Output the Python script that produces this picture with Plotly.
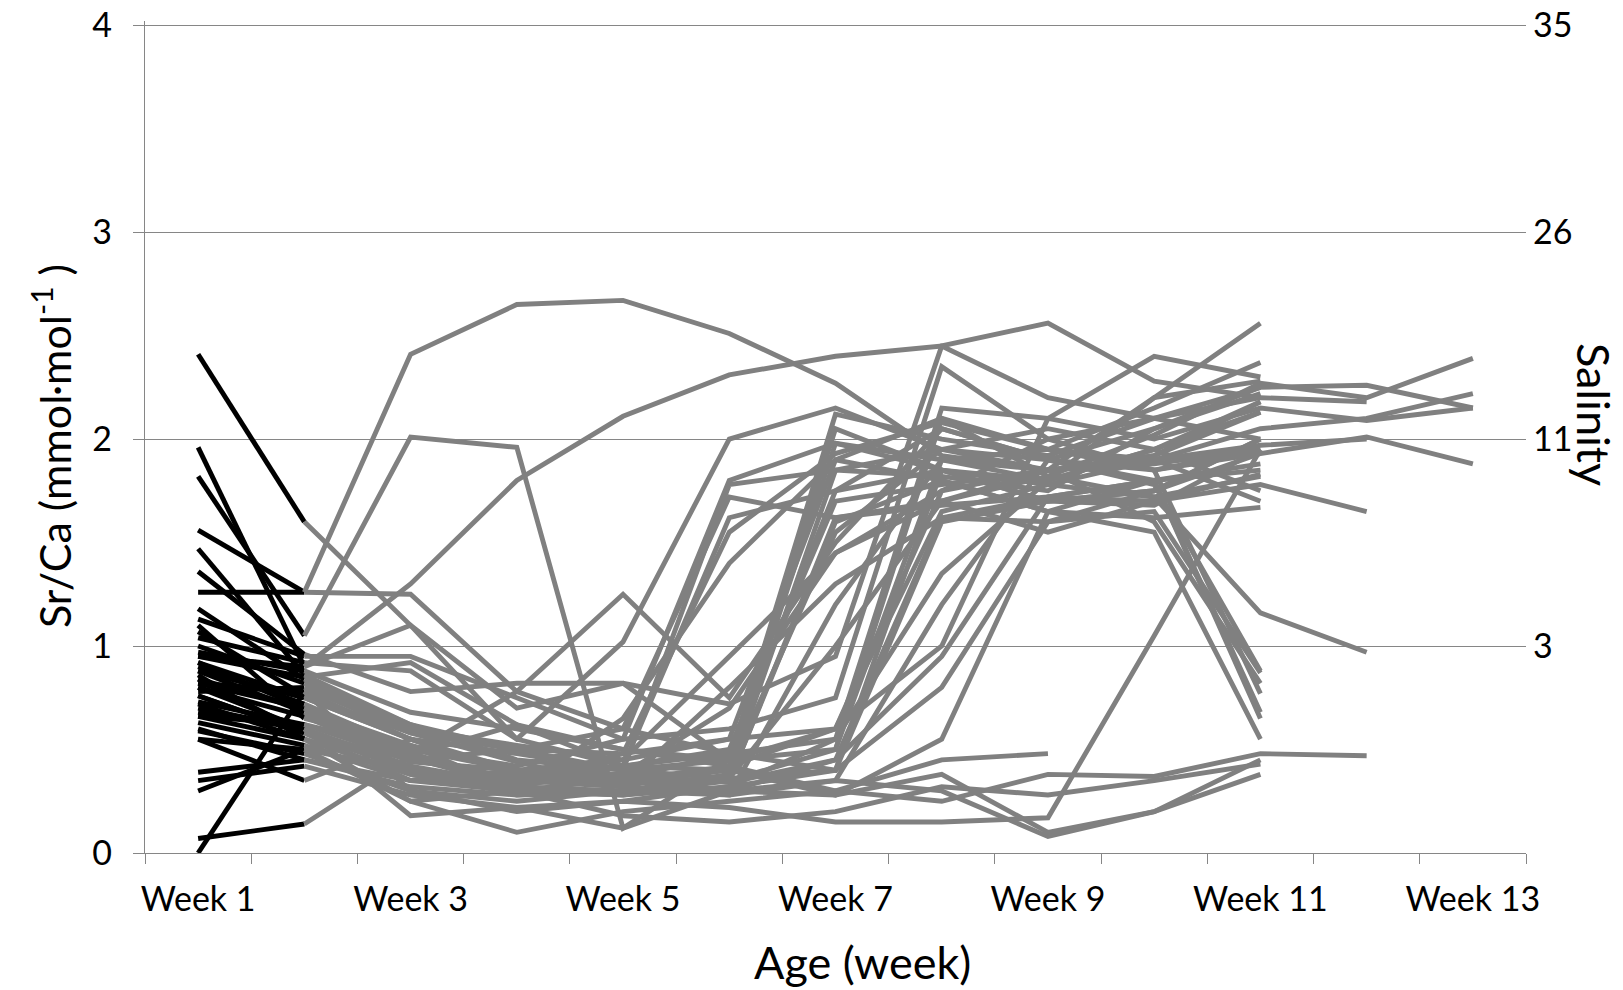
import plotly.graph_objects as go

# Category axis: weeks of age
week_numbers = list(range(1, 14))
label_weeks = [1, 3, 5, 7, 9, 11, 13]
week_labels = [f"Week {w}" for w in label_weeks]

# Left axis (Sr/Ca) and right axis (salinity equivalents)
srca_ticks = [0, 1, 2, 3, 4]
salinity_ticks = [1, 2, 3, 4]
salinity_labels = ["3", "11", "26", "35"]

# Weekly Sr/Ca profiles (mmol/mol), one list per fish, starting at Week 1.
# Week 1 -> Week 2 is the freshwater segment, the rest is the later record.
fish_a1 = [1.47, 0.86, 0.62, 0.45, 0.40, 1.78, 1.85, 1.95, 1.90, 2.05, 2.22]
fish_a2 = [0.92, 0.75, 0.55, 0.38, 0.42, 1.62, 1.75, 1.85, 1.80, 1.95, 2.13]
fish_a3 = [0.84, 0.70, 0.48, 0.35, 0.48, 1.55, 1.93, 2.08, 1.95, 1.90, 1.97, 2.00]
fish_a4 = [0.66, 0.62, 0.50, 0.42, 0.55, 1.80, 1.98, 1.85, 1.70, 1.75, 1.93]
fish_a5 = [0.78, 0.80, 0.58, 0.50, 0.60, 1.72, 1.62, 1.70, 1.82, 2.02, 2.27, 2.20, 2.39]
fish_a6 = [1.04, 0.92, 0.88, 0.55, 1.02, 2.00, 2.15, 1.95, 1.85, 2.20, 2.28]
fish_a7 = [1.10, 0.65, 0.52, 0.30, 0.65, 1.40, 1.90, 2.10, 1.82, 1.72, 1.82]
fish_b1 = [0.90, 0.72, 0.50, 0.40, 0.35, 0.42, 1.98, 1.90, 1.80, 1.95, 2.18]
fish_b2 = [0.88, 0.68, 0.46, 0.32, 0.30, 0.38, 1.85, 1.82, 1.75, 2.05, 2.25, 2.26, 2.15]
fish_b3 = [0.82, 0.78, 0.55, 0.48, 0.40, 0.45, 2.12, 2.00, 1.92, 2.10, 2.20, 2.18]
fish_b4 = [0.95, 0.85, 0.92, 0.62, 0.42, 0.50, 1.70, 1.78, 1.85, 1.88, 1.95]
fish_b5 = [0.76, 0.58, 0.40, 0.28, 0.30, 0.35, 1.62, 1.68, 1.72, 1.80, 1.88]
fish_b6 = [0.73, 0.62, 0.45, 0.36, 0.34, 0.40, 1.55, 1.95, 2.05, 1.95, 1.75]
fish_b7 = [1.00, 0.82, 0.60, 0.52, 0.45, 0.55, 1.90, 1.80, 1.65, 1.62, 1.67]
fish_b8 = [0.86, 0.55, 0.38, 0.30, 0.36, 0.48, 1.75, 2.05, 1.90, 1.78, 0.88]
fish_b9 = [0.70, 0.60, 0.42, 0.33, 0.38, 0.70, 1.45, 1.70, 1.85, 1.60, 0.82]
fish_b10 = [0.63, 0.52, 0.35, 0.38, 0.33, 0.80, 1.30, 1.62, 1.72, 1.70, 1.83]
fish_b11 = [1.07, 0.76, 0.58, 0.44, 0.32, 0.28, 1.20, 1.90, 1.85, 1.90, 2.05, 2.10, 2.22]
fish_b12 = [0.80, 0.66, 0.44, 0.40, 0.45, 0.95, 1.45, 1.75, 2.00, 2.10, 2.00]
fish_b13 = [0.97, 0.88, 0.68, 0.60, 0.50, 0.45, 2.05, 1.85, 1.78, 1.72, 1.16, 0.97]
fish_b14 = [0.55, 0.50, 0.25, 0.30, 0.28, 0.35, 1.60, 1.80, 1.65, 1.55, 0.55]
fish_c1 = [0.68, 0.60, 0.40, 0.35, 0.32, 0.42, 0.60, 1.75, 1.85, 1.92, 2.13]
fish_c2 = [0.59, 0.48, 0.30, 0.25, 0.30, 0.35, 0.50, 2.10, 1.95, 1.85, 1.93, 2.01, 1.88]
fish_c3 = [0.39, 0.45, 0.35, 0.40, 0.38, 0.34, 0.45, 1.62, 1.60, 1.75, 2.00]
fish_c4 = [1.13, 0.95, 0.95, 0.75, 0.55, 0.60, 0.75, 2.35, 2.00, 1.85, 0.77]
fish_c5 = [0.35, 0.42, 0.28, 0.22, 0.25, 0.32, 0.40, 1.85, 1.70, 1.68, 1.95]
fish_c6 = [0.30, 0.50, 0.40, 0.32, 0.42, 0.48, 0.55, 2.15, 2.10, 2.00, 2.15, 2.09, 2.15]
fish_c7 = [1.36, 0.96, 0.78, 0.82, 0.82, 0.72, 0.95, 2.45, 2.56, 2.28, 2.20]
fish_c8 = [0.76, 0.58, 0.45, 0.50, 0.40, 0.36, 1.00, 1.70, 1.55, 1.70, 1.78, 1.65]
fish_d1 = [0.82, 0.70, 0.52, 0.40, 0.35, 0.30, 0.45, 0.95, 1.72, 1.80, 0.68]
fish_d2 = [0.60, 0.45, 0.32, 0.28, 0.30, 0.28, 0.35, 1.20, 1.90, 1.85, 1.95]
fish_d3 = [0.88, 0.75, 0.55, 0.38, 0.34, 0.36, 0.40, 0.80, 1.60, 1.65, 0.87]
fish_d4 = [0.72, 0.55, 0.38, 0.30, 0.28, 0.32, 0.55, 1.35, 1.80, 2.20, 2.56]
fish_d5 = [1.18, 0.84, 0.62, 0.50, 0.48, 0.55, 0.60, 1.00, 2.10, 2.40, 2.30]
fish_e1 = [0.07, 0.14, 0.47, 0.62, 0.50, 0.42, 0.30, 0.45, 0.48]
fish_e2 = [0.00, 0.78, 0.30, 0.20, 0.25, 0.22, 0.15, 0.15, 0.17, 1.05, 1.95]
fish_e3 = [0.55, 0.35, 0.55, 0.40, 0.35, 0.30, 0.35, 0.30, 0.08, 0.20, 0.45]
fish_e4 = [0.80, 0.60, 0.18, 0.22, 0.12, 0.30, 0.28, 0.38, 0.10, 0.20, 0.38]
fish_e5 = [0.66, 0.55, 0.25, 0.10, 0.20, 0.25, 0.30, 0.25, 0.38, 0.37, 0.48, 0.47]
fish_e6 = [0.84, 0.58, 0.35, 0.30, 0.18, 0.15, 0.20, 0.32, 0.28, 0.35, 0.43]
fish_f1 = [1.26, 1.26, 2.41, 2.65, 2.67, 2.51, 2.27, 1.92, 1.85, 1.92, 2.18]
fish_f2 = [1.82, 1.05, 2.01, 1.96, 0.12, 0.45, 0.60, 1.65, 1.78, 1.90, 1.70]
fish_f3 = [0.95, 0.90, 1.30, 1.80, 2.11, 2.31, 2.40, 2.45, 2.20, 2.10, 2.25]
fish_f4 = [1.56, 1.26, 1.25, 0.78, 0.60, 0.48, 0.40, 1.60, 1.70, 1.75, 2.00]
fish_f5 = [2.41, 1.60, 1.10, 0.55, 0.42, 0.40, 0.28, 0.55, 1.65, 1.80, 0.65]
fish_f6 = [1.96, 0.90, 1.10, 0.70, 0.82, 0.45, 0.50, 1.90, 1.95, 2.15, 2.37]
fish_f7 = [0.92, 0.70, 0.48, 0.78, 1.25, 0.75, 1.50, 2.05, 1.90, 1.80, 1.85]

fish_series = [
    fish_a1, fish_a2, fish_a3, fish_a4, fish_a5, fish_a6, fish_a7,
    fish_b1, fish_b2, fish_b3, fish_b4, fish_b5, fish_b6, fish_b7,
    fish_b8, fish_b9, fish_b10, fish_b11, fish_b12, fish_b13, fish_b14,
    fish_c1, fish_c2, fish_c3, fish_c4, fish_c5, fish_c6, fish_c7, fish_c8,
    fish_d1, fish_d2, fish_d3, fish_d4, fish_d5,
    fish_e1, fish_e2, fish_e3, fish_e4, fish_e5, fish_e6,
    fish_f1, fish_f2, fish_f3, fish_f4, fish_f5, fish_f6, fish_f7,
]

FONT = "Lato, Carlito, 'Open Sans', sans-serif"
AXIS_GREY = "#868686"
LINE_GREY = "#808080"
LINE_W = 4.9

fig = go.Figure()

# Freshwater segment (Week 1 -> Week 2) in black
for series in fish_series:
    fig.add_trace(go.Scatter(
        x=week_numbers[:2], y=series[:2], mode="lines",
        line=dict(color="black", width=LINE_W),
        hoverinfo="skip", showlegend=False,
    ))

# Remaining record (Week 2 onward) in grey
for series in fish_series:
    fig.add_trace(go.Scatter(
        x=week_numbers[1:len(series)], y=series[1:], mode="lines",
        line=dict(color=LINE_GREY, width=LINE_W),
        hoverinfo="skip", showlegend=False,
    ))

# Empty trace so the salinity axis on the right is rendered
fig.add_trace(go.Scatter(x=[], y=[], yaxis="y2", mode="lines",
                         hoverinfo="skip", showlegend=False))

# Plot frame in pixels: y = 0 sits at 853, y = 4 at 25
plot_left, plot_right, plot_bottom = 145, 1526, 853
y_top = 4.02                      # small headroom so the gridline at 4 is drawn
unit_px = (853 - 25) / 4
plot_top = round(plot_bottom - unit_px * y_top)
pw = plot_right - plot_left
ph = plot_bottom - plot_top


def px_x(x):
    return (x - plot_left) / pw


def px_y(y):
    return (plot_bottom - y) / ph


TICK_FONT = dict(size=34, family=FONT, color="black")
TITLE_FONT = dict(size=45, family=FONT, color="black")

fig.update_layout(
    width=1623, height=990,
    margin=dict(l=plot_left, r=1623 - plot_right, t=plot_top, b=990 - plot_bottom,
                autoexpand=False),
    paper_bgcolor="white", plot_bgcolor="white",
    font=dict(family=FONT, color="black"),
    showlegend=False,
    xaxis=dict(
        range=[0.5, 13.5], tickmode="array", tickvals=label_weeks, ticktext=week_labels,
        ticks="", showgrid=False, zeroline=False, automargin=False,
        showline=True, linecolor=AXIS_GREY, linewidth=1.4,
        tickfont=TICK_FONT, ticklabelstandoff=16,
        minor=dict(tickmode="array", tickvals=[w + 0.5 for w in range(0, 14)],
                   ticks="outside", ticklen=10, tickcolor=AXIS_GREY, tickwidth=1.4,
                   showgrid=False),
    ),
    yaxis=dict(
        range=[0, y_top], tickmode="array", tickvals=srca_ticks, automargin=False,
        ticks="outside", ticklen=11, tickcolor=AXIS_GREY, tickwidth=1.4,
        showgrid=True, gridcolor=AXIS_GREY, gridwidth=1.4, zeroline=False,
        showline=True, linecolor=AXIS_GREY, linewidth=1.4,
        tickfont=TICK_FONT, ticklabelstandoff=14,
    ),
    yaxis2=dict(
        range=[0, y_top], overlaying="y", side="right", anchor="x", automargin=False,
        tickmode="array", tickvals=salinity_ticks, ticktext=salinity_labels,
        ticks="", showgrid=False, zeroline=False, showline=False,
        tickfont=TICK_FONT, ticklabelstandoff=6,
    ),
    annotations=[
        dict(text="Age (week)", xref="paper", yref="paper",
             x=px_x(862), y=px_y(962), xanchor="center", yanchor="middle",
             showarrow=False, font=TITLE_FONT),
        dict(text="Sr/Ca (mmol·mol<sup>-1</sup> )", xref="paper", yref="paper",
             x=px_x(51), y=px_y(446), xanchor="center", yanchor="middle",
             textangle=-90, showarrow=False,
             font=dict(size=43, family=FONT, color="black")),
        dict(text="Salinity", xref="paper", yref="paper",
             x=px_x(1594), y=px_y(414), xanchor="center", yanchor="middle",
             textangle=90, showarrow=False, font=TITLE_FONT),
    ],
)

fig.write_html("out.html")
